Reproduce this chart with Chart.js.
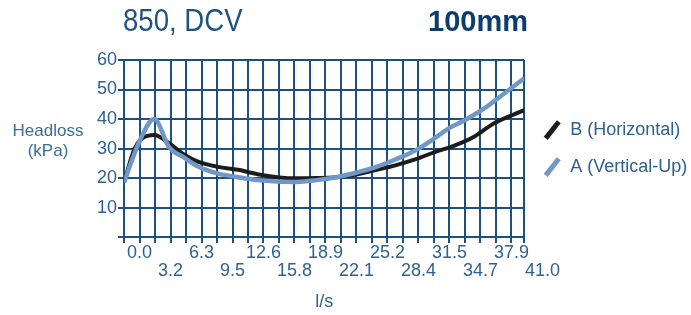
<!DOCTYPE html>
<html>
<head>
<meta charset="utf-8">
<script src="https://cdn.jsdelivr.net/npm/chart.js@4.4.1/dist/chart.umd.min.js"></script>
<style>
  html, body { margin: 0; padding: 0; background: #ffffff; }
  #wrap { position: relative; width: 691px; height: 315px; }
  #wrap canvas { position: absolute; left: 0; top: 0; }
  .txt {
    position: absolute;
    font-family: "Liberation Sans", Arial, sans-serif;
    color: #25598a;
    white-space: nowrap;
    line-height: 1;
    transform-origin: 0 0;
  }
  #title { left: 123px; top: 5px; font-size: 31px; color: #1f5282; transform: scaleX(0.89); }
  #size { left: 428px; top: 7px; font-size: 29px; font-weight: bold; color: #0c3d6e; }
  #ytitle { left: 8px; top: 121px; width: 80px; text-align: center; font-size: 17px; line-height: 20px; color: #3a6d9c; }
</style>
</head>
<body>
<div id="wrap">
  <canvas id="chart" width="691" height="315"></canvas>
  <div class="txt" id="title">850, DCV</div>
  <div class="txt" id="size">100mm</div>
  <div class="txt" id="ytitle">Headloss<br>(kPa)</div>
</div>
<script>
// flow (l/s) and headloss (kPa)
const flowA = [-1.575, 0, 1.5, 3, 4.5, 6, 8, 10, 12, 14, 16, 18, 20, 22, 24, 26, 28, 30, 31.5, 33, 35, 37, 39.1];
const headA = [18.5, 32.5, 40, 30.5, 27, 23.8, 21.5, 20.3, 19.3, 18.8, 18.7, 19.3, 20.3, 21.8, 23.7, 26.3, 29.3, 33.5, 37, 39.5, 43.5, 48.5, 53.8];

const flowB = [-1.575, -0.5, 0.3, 1.5, 3, 4.5, 6, 8, 10, 12, 14, 16, 18, 20, 22, 24, 26, 28, 30, 32, 34, 36, 39.1];
const headB = [18.5, 30, 33.5, 34.6, 31.8, 28, 25.5, 23.8, 22.8, 21.3, 20.3, 19.9, 20, 20.3, 21.2, 22.7, 24.3, 26.3, 28.8, 31, 34, 38.5, 43];

const seriesNames = ['A (Vertical-Up)', 'B (Horizontal)'];
const xTickLabels = ['0.0', '3.2', '6.3', '9.5', '12.6', '15.8', '18.9', '22.1', '25.2', '28.4', '31.5', '34.7', '37.9', '41.0'];
const labelStep = 3.15;
const xMin = -1.575;
const xMax = 39.1;
const yMin = 0;
const yMax = 60;
const yStep = 10;

const gridColor = '#1d4f7f';
const tickColor = '#2d6293';
const sans = '"Liberation Sans", Arial, sans-serif';

// grid lines every half label step, plus the right edge
const gridValues = [];
for (let i = -1; i < xTickLabels.length * 2 - 1; i++) {
    gridValues.push(i * labelStep / 2);
}
gridValues.push(xMax);

function labelFor(value) {
    const k = Math.round(value / labelStep);
    if (k < 0 || k >= xTickLabels.length) return '';
    if (Math.abs(value - k * labelStep) > 1e-6) return '';
    // alternate rows like the original
    return k % 2 === 0 ? [xTickLabels[k], ''] : ['', xTickLabels[k]];
}

// no grid line for ticks past the end of the axis
function xGridColor(ctx) {
    return ctx.tick && ctx.tick.value > xMax + 1e-6 ? 'rgba(0,0,0,0)' : gridColor;
}

// legend fit() leaves out the left padding, so the text got clipped
const legendRoom = {
    id: 'legendRoom',
    beforeInit(chart) {
        const origFit = chart.legend.fit;
        chart.legend.fit = function fit() {
            origFit.bind(chart.legend)();
            this.width += 15;
        };
    }
};

const chartData = {
    datasets: [
        {
            label: seriesNames[0],
            data: flowA.map((x, i) => ({ x: x, y: headA[i] })),
            borderColor: '#6f97c7',
            borderWidth: 4.5,
            pointRadius: 0,
            pointStyle: 'line',
            rotation: -52,
            pointBorderColor: '#6f97c7',
            pointBorderWidth: 5,
            cubicInterpolationMode: 'monotone',
            fill: false
        },
        {
            label: seriesNames[1],
            data: flowB.map((x, i) => ({ x: x, y: headB[i] })),
            borderColor: '#1c1c1c',
            borderWidth: 4,
            pointRadius: 0,
            pointStyle: 'line',
            rotation: -52,
            pointBorderColor: '#1c1c1c',
            pointBorderWidth: 5,
            cubicInterpolationMode: 'monotone',
            fill: false
        }
    ]
};

const chartOptions = {
    responsive: false,
    animation: false,
    layout: {
        padding: { left: 96, top: 60, right: 4, bottom: 2 }
    },
    scales: {
        x: {
            type: 'linear',
            min: xMin,
            max: xMax,
            afterBuildTicks: (scale) => {
                scale.ticks = gridValues.map(v => ({ value: v }));
            },
            ticks: {
                autoSkip: false,
                maxRotation: 0,
                padding: 0,
                color: tickColor,
                font: { family: sans, size: 18, lineHeight: 1.05 },
                callback: (value) => labelFor(value)
            },
            grid: { color: xGridColor, lineWidth: 2, tickLength: 6, tickColor: xGridColor },
            border: { color: gridColor, width: 2 },
            title: {
                display: true,
                text: 'l/s',
                color: tickColor,
                font: { family: sans, size: 18 },
                padding: { top: 10.5, bottom: 0 }
            }
        },
        y: {
            min: yMin,
            max: yMax,
            ticks: {
                stepSize: yStep,
                padding: 1,
                color: tickColor,
                font: { family: sans, size: 18 },
                callback: (value) => value === 0 ? '' : value
            },
            grid: { color: gridColor, lineWidth: 2, tickLength: 6, tickColor: gridColor },
            border: { color: gridColor, width: 2 }
        }
    },
    plugins: {
        legend: {
            position: 'right',
            fullSize: false,
            labels: {
                usePointStyle: true,
                boxHeight: 15,
                padding: 19,
                color: '#2b5f8f',
                font: { family: sans, size: 18 },
                sort: (a, b) => b.datasetIndex - a.datasetIndex
            }
        },
        tooltip: { enabled: false }
    }
};

new Chart(document.getElementById('chart'), {
    type: 'line',
    data: chartData,
    options: chartOptions,
    plugins: [legendRoom]
});
</script>
</body>
</html>
